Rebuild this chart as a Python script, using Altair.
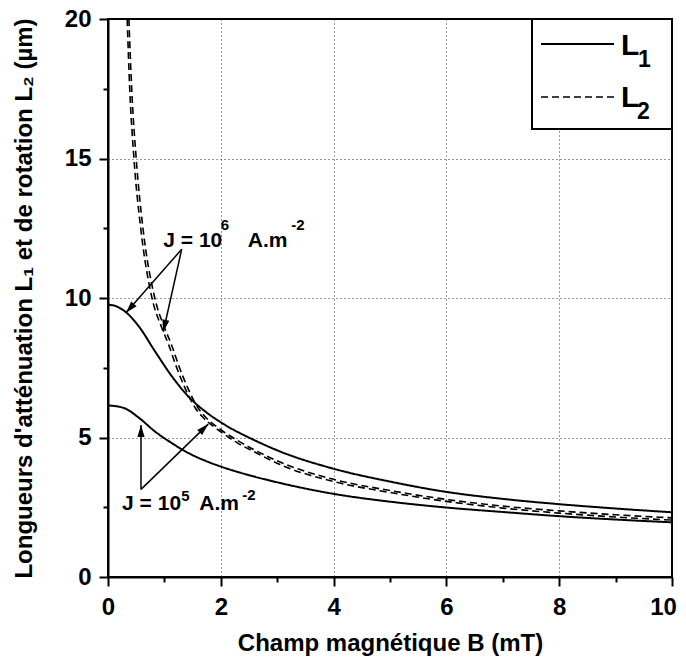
import math
import altair as alt
import pandas as pd

# ---------------- data ----------------
# L1 (attenuation length), J = 1e6 A.m-2
B_L1_J6 = [0, 0.15, 0.3, 0.54, 0.83, 1.13, 1.42, 1.72, 2.02, 2.6, 3.05, 4, 5, 6, 7, 8, 9, 10]
L1_J6 = [9.76, 9.70, 9.52, 9.0, 8.1, 7.2, 6.48, 5.94, 5.52, 4.90, 4.50, 3.88, 3.42, 3.05, 2.80, 2.61, 2.455, 2.32]
# L1, J = 1e5 A.m-2
B_L1_J5 = [0, 0.28, 0.54, 0.83, 1.13, 1.42, 1.72, 2.02, 2.5, 3.05, 4, 5, 6, 7, 8, 9, 10]
L1_J5 = [6.15, 6.06, 5.72, 5.22, 4.8, 4.45, 4.17, 3.945, 3.65, 3.37, 2.98, 2.7, 2.49, 2.33, 2.18, 2.06, 1.96]
# L2 (rotation length), J = 1e6
B_L2_J6 = [0.37, 0.42, 0.5, 0.62, 0.83, 1.01, 1.13, 1.25, 1.42, 1.6, 1.72, 2.02, 2.31, 2.6, 3.05, 4, 5, 6, 7, 8, 9, 10]
L2_J6 = [20, 17.5, 15, 12.5, 10, 8.9, 8.3, 7.6, 6.75, 6.05, 5.75, 5.25, 4.88, 4.55, 4.12, 3.5, 3.1, 2.78, 2.54, 2.37, 2.23, 2.12]
# L2, J = 1e5
B_L2_J5 = [0.34, 0.385, 0.46, 0.58, 0.78, 0.96, 1.08, 1.2, 1.37, 1.55, 1.67, 1.97, 2.3, 2.6, 3.05, 4, 5, 6, 7, 8, 9, 10]
L2_J5 = [20, 17.5, 15, 12.5, 10, 8.9, 8.3, 7.6, 6.75, 6.05, 5.75, 5.25, 4.8, 4.48, 4.03, 3.42, 3.03, 2.71, 2.47, 2.29, 2.15, 2.04]

X_TICKS = list(range(0, 11))
Y_TICKS = [0, 2.5, 5, 7.5, 10, 12.5, 15, 17.5, 20]

X_TITLE = "Champ magnétique B (mT)"
Y_TITLE = "Longueurs d'atténuation L\u2081 et de rotation L\u2082 (µm)"

# annotation texts (anchor in data units: B, L)
ANN_TEXT = ["J = 10", "6", "A.m", "-2", "J = 10", "5", "A.m", "-2"]
ANN_B = [0.98, 2.0, 2.48, 3.25, 0.25, 1.30, 1.62, 2.38]
ANN_L = [11.84, 12.45, 11.84, 12.45, 2.40, 2.72, 2.40, 2.76]
ANN_SIZE = [21, 15, 21, 15, 21, 15, 21, 15]

# arrows: start (B0, L0) -> tip (B1, L1)
ARR_B0 = [1.307, 1.307, 0.585, 0.585]
ARR_L0 = [11.75, 11.75, 3.14, 3.14]
ARR_B1 = [0.319, 0.98, 0.585, 1.778]
ARR_L1 = [9.47, 8.79, 5.45, 5.48]

# ---------------- layout ----------------
W, H = 564, 558
PX = W / 10.0
PY = H / 20.0
FONT = "Liberation Sans"

rows = []
for cid, kind, bs, ls in [("L1_J6", "L1", B_L1_J6, L1_J6), ("L1_J5", "L1", B_L1_J5, L1_J5),
                          ("L2_J6", "L2", B_L2_J6, L2_J6), ("L2_J5", "L2", B_L2_J5, L2_J5)]:
    for b, l in zip(bs, ls):
        rows.append({"B": b, "L": l, "curve": cid, "kind": kind})
curves = pd.DataFrame(rows)

xscale = alt.Scale(domain=[0, 10], nice=False, zero=False)
yscale = alt.Scale(domain=[0, 20], nice=False, zero=False)

x_axis = alt.Axis(
    values=X_TICKS,
    labelExpr="datum.value % 2 == 0 ? format(datum.value, 'd') : ''",
    tickSize={"condition": {"test": "datum.value % 2 == 0", "value": 9}, "value": 5},
    gridOpacity={"condition": {"test": "datum.value % 2 == 0 && datum.value > 0 && datum.value < 10", "value": 1}, "value": 0},
    labelOffset={"condition": {"test": "datum.value == 10", "value": -9}, "value": 0},
    labelFlush=False,
    labelPadding=9,
    titleX=W / 2, titleY=73, titleBaseline="alphabetic", titleAlign="center",
)
y_axis = alt.Axis(
    values=Y_TICKS,
    labelExpr="datum.value % 5 == 0 ? format(datum.value, 'd') : ''",
    tickSize={"condition": {"test": "datum.value % 5 == 0", "value": 9}, "value": 5},
    gridOpacity={"condition": {"test": "datum.value % 5 == 0 && datum.value > 0 && datum.value < 20", "value": 1}, "value": 0},
    labelFlush=False,
    labelPadding=8,
    titleX=-77, titleY=H / 2, titleAngle=270, titleBaseline="alphabetic", titleAlign="center",
)

lines = alt.Chart(curves).mark_line(clip=True, interpolate="monotone", color="black").encode(
    x=alt.X("B:Q", scale=xscale, axis=x_axis, title=X_TITLE),
    y=alt.Y("L:Q", scale=yscale, axis=y_axis, title=Y_TITLE),
    detail="curve:N",
    strokeDash=alt.StrokeDash("kind:N", scale=alt.Scale(domain=["L1", "L2"], range=[[1, 0], [7, 4]]), legend=None),
    strokeWidth=alt.StrokeWidth("kind:N", scale=alt.Scale(domain=["L1", "L2"], range=[2, 1.6]), legend=None),
)

ann = pd.DataFrame({"t": ANN_TEXT, "B": ANN_B, "L": ANN_L, "fs": ANN_SIZE})
texts = alt.Chart(ann).mark_text(align="left", baseline="alphabetic", font=FONT, fontWeight="bold", color="black").encode(
    x=alt.X("B:Q", scale=xscale), y=alt.Y("L:Q", scale=yscale),
    text="t:N", size=alt.Size("fs:Q", scale=None),
)

angs = []
for b0, l0, b1, l1 in zip(ARR_B0, ARR_L0, ARR_B1, ARR_L1):
    dx = (b1 - b0) * PX
    dy = -(l1 - l0) * PY
    angs.append(math.degrees(math.atan2(dx, -dy)) % 360)
arr = pd.DataFrame({"B0": ARR_B0, "L0": ARR_L0, "B1": ARR_B1, "L1v": ARR_L1, "ang": angs})

arrow_lines = alt.Chart(arr).mark_rule(color="black", strokeWidth=1.5).encode(
    x=alt.X("B0:Q", scale=xscale), y=alt.Y("L0:Q", scale=yscale),
    x2="B1:Q", y2="L1v:Q",
)
arrow_heads = alt.Chart(arr).mark_point(
    shape="M0,0L-0.3,1L0.3,1Z", filled=True, color="black", opacity=1, size=576, strokeWidth=0
).encode(
    x=alt.X("B1:Q", scale=xscale), y=alt.Y("L1v:Q", scale=yscale),
    angle=alt.Angle("ang:Q", scale=None),
)

one = alt.Data(values=[{"a": 1}])
leg_box = alt.Chart(one).mark_rect(fill="white", stroke="black", strokeWidth=2).encode(
    x=alt.value(424), x2=alt.value(564), y=alt.value(0), y2=alt.value(110))
leg_l1 = alt.Chart(one).mark_rule(color="black", strokeWidth=2).encode(
    x=alt.value(433), x2=alt.value(506), y=alt.value(25))
leg_l2 = alt.Chart(one).mark_rule(color="black", strokeWidth=1.6, strokeDash=[7, 4]).encode(
    x=alt.value(433), x2=alt.value(506), y=alt.value(78))


def ltxt(t, x, y, fs):
    return alt.Chart(one).mark_text(align="left", baseline="alphabetic", font=FONT, fontWeight="bold",
                                    color="black", fontSize=fs, text=t).encode(x=alt.value(x), y=alt.value(y))


leg_texts = [ltxt("L", 513, 36, 30), ltxt("1", 530, 48, 23), ltxt("L", 513, 88, 30), ltxt("2", 529, 100, 23)]

chart = alt.layer(lines, arrow_lines, arrow_heads, texts, leg_box, leg_l1, leg_l2, *leg_texts).properties(
    width=W, height=H,
    padding={"left": 100, "top": 11, "right": 6, "bottom": 80},
    autosize=alt.AutoSizeParams(type="none"),
    background="white",
).configure(font=FONT).configure_view(stroke="black", strokeWidth=2).configure_axis(
    labelFont=FONT, labelFontWeight="bold", labelFontSize=24, labelColor="black",
    titleFont=FONT, titleFontWeight="bold", titleFontSize=24, titleColor="black",
    tickColor="black", tickWidth=2, domainColor="black", domainWidth=2,
    gridColor="#333333", gridDash=[1, 3], gridWidth=1, labelOverlap=False,
)

chart.save("out.html", embed_options={"renderer": "svg", "actions": False})
